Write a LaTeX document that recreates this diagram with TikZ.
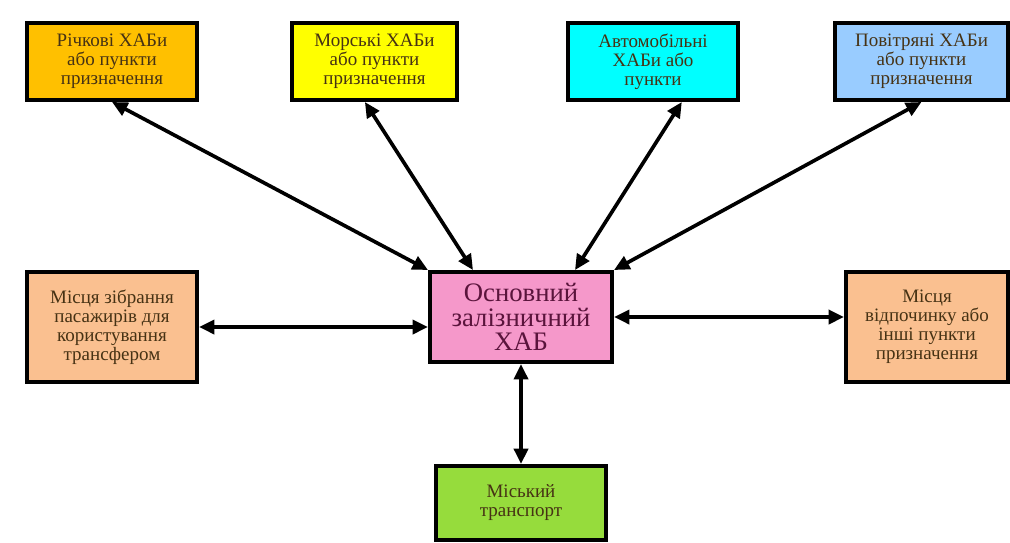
\documentclass[tikz,border=0pt]{standalone}
\usepackage{fontspec}
\setmainfont{Liberation Serif}
\usetikzlibrary{arrows.meta}
\definecolor{rivcol}{RGB}{255,192,0}
\definecolor{morcol}{RGB}{255,255,0}
\definecolor{avtocol}{RGB}{0,255,255}
\definecolor{povcol}{RGB}{153,204,255}
\definecolor{peachcol}{RGB}{250,192,144}
\definecolor{hubcol}{RGB}{245,152,202}
\definecolor{miskcol}{RGB}{150,220,60}
\definecolor{txtcol}{RGB}{70,50,20}
\definecolor{hubtxt}{RGB}{90,20,60}
\begin{document}
\begin{tikzpicture}[x=0.025cm,y=-0.025cm,
  box/.style={draw=black,line width=2.8pt,align=center,inner sep=2pt,
    font=\fontsize{13.5}{13.5}\selectfont,text=txtcol},
  link/.style={<->,line width=2.6pt,>={Triangle[length=11pt,width=10pt]}}]
\useasboundingbox (0,0) rectangle (1010,542);

\node [box,fill=rivcol,minimum width=4.25cm,minimum height=1.925cm] (riv) at (112,61.5) {Річкові ХАБи\\або пункти\\призначення};
\node [box,fill=morcol,minimum width=4.125cm,minimum height=1.925cm] (mor) at (374.5,61.5) {Морські ХАБи\\або пункти\\призначення};
\node [box,fill=avtocol,minimum width=4.25cm,minimum height=1.925cm] (avto) at (653,61.5) {Автомобільні\\ХАБи або\\пункти};
\node [box,fill=povcol,minimum width=4.325cm,minimum height=1.925cm] (pov) at (921.5,61.5) {Повітряні ХАБи\\або пункти\\призначення};
\node [box,fill=peachcol,minimum width=4.25cm,minimum height=2.75cm] (zbir) at (112,327) {Місця зібрання\\пасажирів для\\користування\\трансфером};
\node [box,fill=hubcol,minimum width=4.55cm,minimum height=2.25cm,text=hubtxt,
  font=\fontsize{19}{17.5}\selectfont] (hub) at (521,317) {Основний\\залізничний\\ХАБ};
\node [box,fill=peachcol,minimum width=4.05cm,minimum height=2.75cm] (vidp) at (927,327) {Місця\\відпочинку або\\інші пункти\\призначення};
\node [box,fill=miskcol,minimum width=4.25cm,minimum height=1.85cm] (misk) at (521,503) {Міський\\транспорт};

\draw[link] (riv.south) -- (hub.north west);
\draw[link] ([xshift=-0.24cm]mor.south) -- ([xshift=-1.2cm]hub.north);
\draw[link] ([xshift=0.72cm]avto.south) -- ([xshift=1.35cm]hub.north);
\draw[link] (pov.south) -- (hub.north east);
\draw[link] (zbir.east) -- (hub.west |- zbir.east);
\draw[link] (hub.east) -- (vidp.west |- hub.east);
\draw[link] (hub.south) -- (misk.north);
\end{tikzpicture}
\end{document}
